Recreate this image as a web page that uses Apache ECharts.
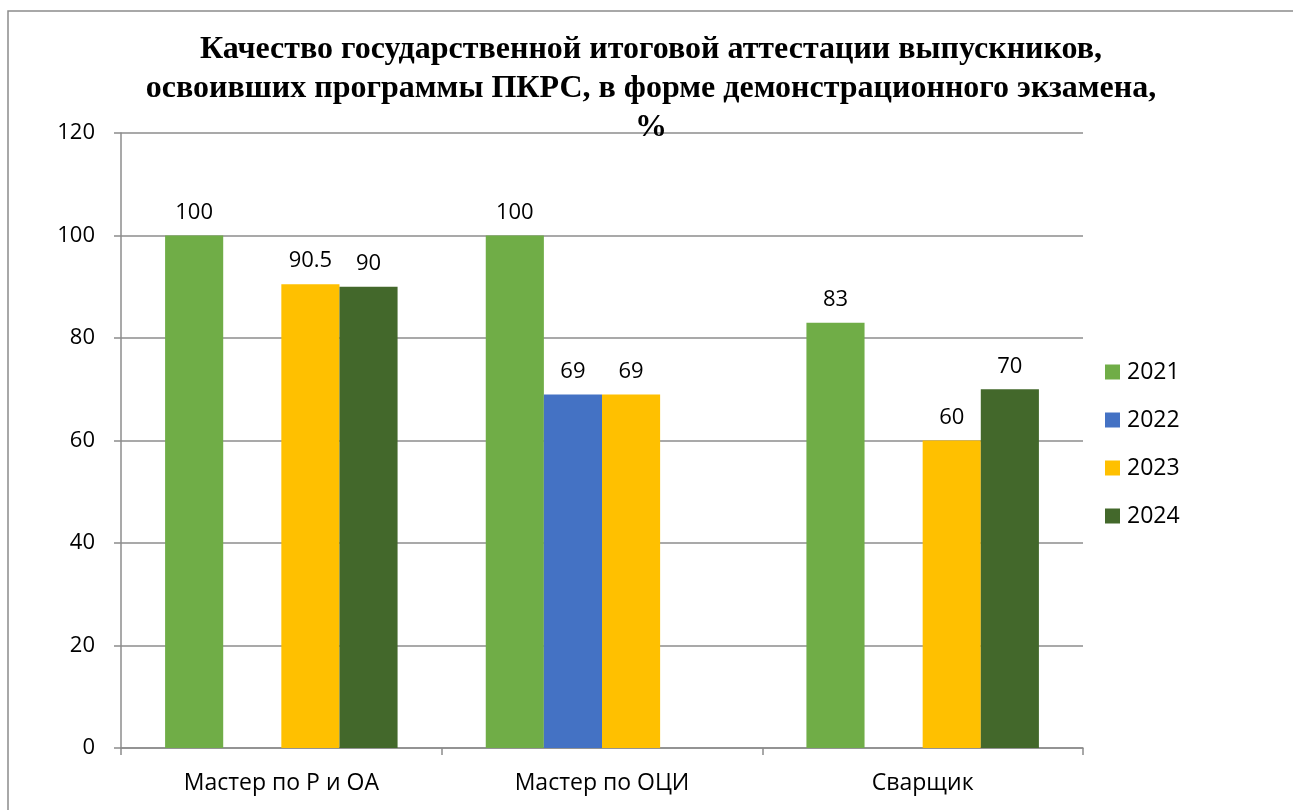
<!DOCTYPE html>
<html>
<head>
<meta charset="utf-8">
<script src="https://cdn.jsdelivr.net/npm/echarts@6/dist/echarts.min.js"></script>
<style>
  html, body { margin: 0; padding: 0; background: #fff; }
  #chart { width: 1293px; height: 810px; }
</style>
</head>
<body>
<div id="chart"></div>
<script>
// данные
var categories = ['Мастер по Р и ОА', 'Мастер по ОЦИ', 'Сварщик'];
var years = ['2021', '2022', '2023', '2024'];
var v2021 = [100, 100, 83];
var v2022 = [null, 69, null];
var v2023 = [90.5, 69, 60];
var v2024 = [90, null, 70];
var colors = ['#70ad47', '#4472c4', '#ffc000', '#43682b'];

var values = [v2021, v2022, v2023, v2024];
var font = '"Open Sans", "Noto Sans", sans-serif';

var series = [];
years.forEach(function(y, i) {
  series.push({
    name: y,
    type: 'bar',
    data: values[i],
    barGap: '0%',
    barCategoryGap: '27.5%',
    itemStyle: { color: colors[i] },
    label: {
      show: true,
      position: 'top',
      distance: 12,
      color: '#000',
      fontSize: 22,
      fontFamily: font
    }
  });
});

var chart = echarts.init(document.getElementById('chart'));
chart.setOption({
  animation: false,
  graphic: [{
    type: 'rect',
    shape: { x: 8, y: 11, width: 1300, height: 820 },
    style: { fill: 'none', stroke: '#8c8c8c', lineWidth: 1.5 }
  }],
  title: {
    text: 'Качество государственной итоговой аттестации выпускников,\nосвоивших программы ПКРС, в форме демонстрационного экзамена,\n%',
    left: 646,
    textAlign: 'center',
    top: 25,
    textStyle: {
      fontFamily: '"Liberation Serif", serif',
      fontWeight: 'bold',
      fontSize: 32,
      lineHeight: 39,
      color: '#000'
    }
  },
  legend: {
    orient: 'vertical',
    left: 1100,
    top: 354,
    itemWidth: 15,
    itemHeight: 15,
    itemGap: 22,
    icon: 'rect',
    data: years,
    textStyle: { fontSize: 23, lineHeight: 26, fontFamily: font, color: '#000', padding: [0, 0, 0, 2] }
  },
  grid: { left: 121, right: 210, top: 133, bottom: 62 },
  xAxis: {
    type: 'category',
    data: categories,
    axisLine: { lineStyle: { color: '#8c8c8c', width: 1.5 } },
    axisTick: { show: true, length: 7, lineStyle: { color: '#8c8c8c', width: 1.5 } },
    axisLabel: { color: '#000', fontSize: 23, fontFamily: font, margin: 24 }
  },
  yAxis: {
    type: 'value',
    min: 0,
    max: 120,
    interval: 20,
    axisLine: { show: true, lineStyle: { color: '#8c8c8c', width: 1.5 } },
    axisTick: { show: true, length: 7, lineStyle: { color: '#8c8c8c', width: 1.5 } },
    splitLine: { lineStyle: { color: '#8c8c8c', width: 1.5 } },
    axisLabel: { color: '#000', fontSize: 22, fontFamily: font, margin: 26 }
  },
  series: series
});
</script>
</body>
</html>
